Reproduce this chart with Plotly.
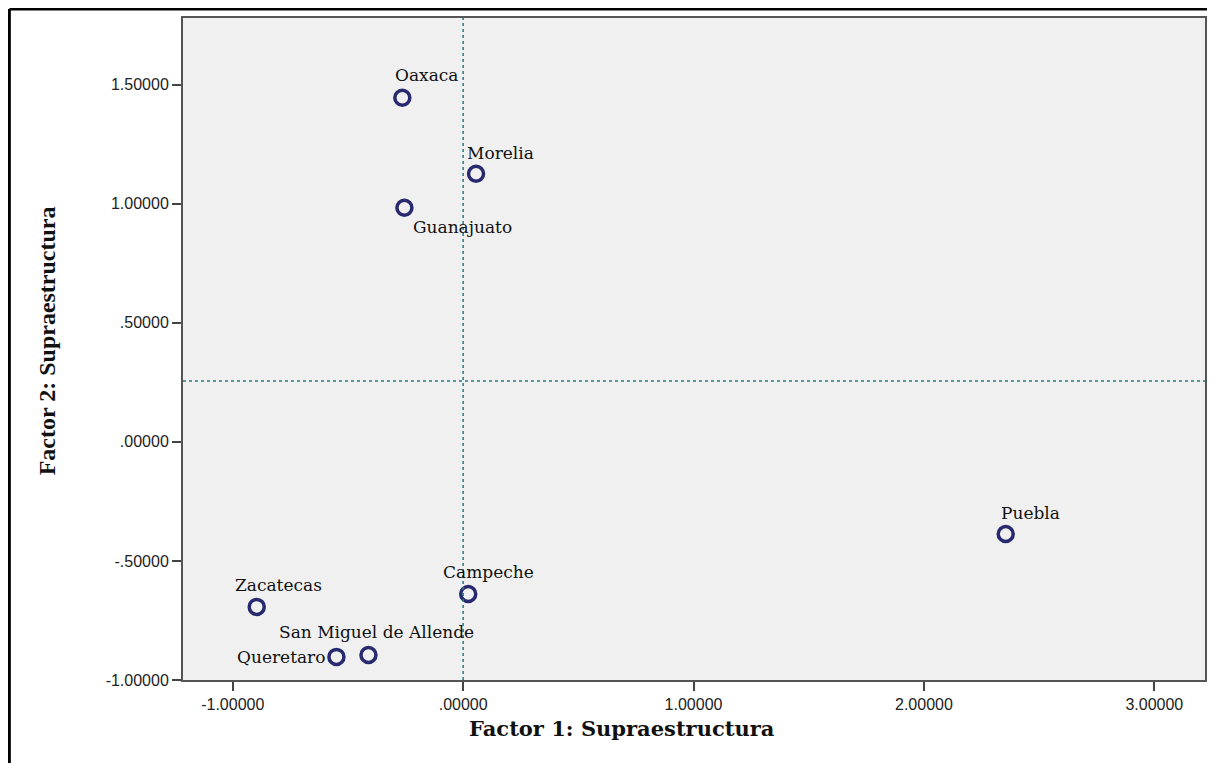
import plotly.graph_objects as go

# factor scores
cities = ["Oaxaca", "Morelia", "Guanajuato", "Puebla", "Campeche",
          "Zacatecas", "Queretaro", "San Miguel de Allende"]
factor1 = [-0.264, 0.056, -0.255, 2.355, 0.022, -0.896, -0.550, -0.411]
factor2 = [1.445, 1.126, 0.983, -0.387, -0.639, -0.693, -0.903, -0.895]

ref_x = 0.0
ref_y = 0.256

x_ticks = [-1, 0, 1, 2, 3]
x_tick_text = ["-1.00000", ".00000", "1.00000", "2.00000", "3.00000"]
y_ticks = [-1, -0.5, 0, 0.5, 1, 1.5]
y_tick_text = ["-1.00000", "-.50000", ".00000", ".50000", "1.00000", "1.50000"]

# label placement (pixel offsets from the point)
label_style = {
    "Oaxaca": ("left", -9, 23),
    "Morelia": ("left", -11, 21),
    "Guanajuato": ("left", 7, -19),
    "Puebla": ("left", -7, 21),
    "Campeche": ("left", -27, 22),
    "Zacatecas": ("left", -24, 22),
    "Queretaro": ("right", -9, 0),
    "San Miguel de Allende": ("left", -91, 23),
}

fig = go.Figure()

fig.add_trace(go.Scatter(
    x=factor1, y=factor2, mode="markers",
    marker=dict(symbol="circle-open", size=15, color="#28296e",
                line=dict(width=3.5, color="#28296e")),
    hoverinfo="text", text=cities, showlegend=False,
))

fig.add_vline(x=ref_x, line=dict(color="#237a80", width=1.5, dash="3px,3px"))
fig.add_hline(y=ref_y, line=dict(color="#237a80", width=1.5, dash="3px,3px"))

for name, x, y in zip(cities, factor1, factor2):
    anchor, dx, dy = label_style[name]
    fig.add_annotation(
        x=x, y=y, text=name, showarrow=False, xanchor=anchor, yanchor="middle",
        xshift=dx, yshift=dy,
        font=dict(family="DejaVu Serif", size=17, color="#111111"),
    )

fig.add_annotation(
    x=0.4297, y=-0.073, xref="paper", yref="paper", showarrow=False,
    text="<b>Factor 1: Supraestructura</b>", xanchor="center", yanchor="middle",
    font=dict(family="DejaVu Serif", size=21, color="#111111"),
)
fig.add_annotation(
    x=-0.1328, y=0.512, xref="paper", yref="paper", showarrow=False,
    text="<b>Factor 2: Supraestructura</b>", textangle=-90,
    xanchor="center", yanchor="middle",
    font=dict(family="Liberation Serif", size=24, color="#111111"),
)

# outer frame (top and left edges visible)
fig.add_shape(type="line", xref="paper", yref="paper",
              x0=-0.1699, x1=1.02, y0=1.0136, y1=1.0136,
              line=dict(color="black", width=3))
fig.add_shape(type="line", xref="paper", yref="paper",
              x0=-0.1699, x1=-0.1699, y0=1.0136, y1=-0.14,
              line=dict(color="black", width=3))

axis_common = dict(
    showgrid=False, zeroline=False, showline=True, mirror=True,
    linecolor="#555555", linewidth=2, ticks="outside", ticklen=9,
    tickwidth=2, tickcolor="#444444",
    tickfont=dict(family="Liberation Sans", size=16, color="#222222"),
)

fig.update_xaxes(range=[-1.216, 3.22], tickvals=x_ticks, ticktext=x_tick_text,
                 **axis_common)
fig.update_yaxes(range=[-1.0, 1.78], tickvals=y_ticks, ticktext=y_tick_text,
                 **axis_common)

# the page body adds an 8px offset, so the figure is 8px smaller
fig.update_layout(
    width=1207, height=755,
    margin=dict(l=175, r=8, t=10, b=83),
    plot_bgcolor="#f0f0f0", paper_bgcolor="white",
)

fig.write_html("out.html")
